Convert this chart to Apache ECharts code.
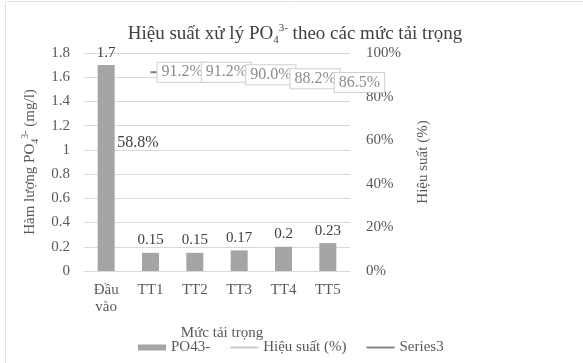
<!DOCTYPE html>
<html>
<head>
<meta charset="utf-8">
<script src="https://cdn.jsdelivr.net/npm/echarts@6/dist/echarts.min.js"></script>
<style>
html,body{margin:0;padding:0;background:#fff;}
#c{width:583px;height:363px;}
</style>
</head>
<body>
<div id="c"></div>
<script>
const categories = ['Đầu\nvào', 'TT1', 'TT2', 'TT3', 'TT4', 'TT5'];
const po4Values = [1.7, 0.15, 0.15, 0.17, 0.2, 0.23];
const efficiencyValues = [58.8, 91.2, 91.2, 90.0, 88.2, 86.5];
const series3Values = [null, 91.2, 91.2, 90.0, 88.2, 86.5];
const leftTicks = { min: 0, max: 1.8, interval: 0.2 };
const rightTicks = { min: 0, max: 100, interval: 20 };

const FONT = 'Liberation Serif';
const TXT = '#595959';

const chart = echarts.init(document.getElementById('c'), null, { renderer: 'canvas' });

const effData = efficiencyValues.map((v, i) => {
  if (i === 0) {
    return { value: v, label: { backgroundColor: 'transparent', borderWidth: 0, color: '#404040', offset: [-4, 8] } };
  }
  return v;
});

chart.setOption({
  animation: false,
  backgroundColor: '#fff',
  graphic: [{
    type: 'rect', silent: true, z: -1,
    shape: { x: 5.5, y: 1.5, width: 600, height: 400 },
    style: { fill: 'none', stroke: '#e3e3e3', lineWidth: 1 }
  }],
  title: {
    text: 'Hiệu suất xử lý PO{sub|4}{sup|3-} theo các mức tải trọng',
    left: 290, textAlign: 'center', top: 18,
    textStyle: {
      fontFamily: FONT, fontSize: 19, fontWeight: 'normal', color: '#404040',
      rich: {
        sub: { fontFamily: FONT, fontSize: 11, color: '#404040', padding: [12, 0, 0, 0] },
        sup: { fontFamily: FONT, fontSize: 11, color: '#404040', padding: [0, 0, 12, 0] }
      }
    }
  },
  grid: { left: 84, right: 233, top: 53, bottom: 92 },
  legend: {
    left: 133, top: 335, itemWidth: 28, itemHeight: 6, itemGap: 20,
    textStyle: { fontFamily: FONT, fontSize: 15, color: TXT },
    data: [
      { name: 'PO43-', icon: 'rect' },
      { name: 'Hiệu suất (%)', icon: 'path://M0,0h30v2h-30z', itemStyle: { color: '#c9c9c9', opacity: 1 } },
      { name: 'Series3', icon: 'path://M0,0h30v2h-30z', itemStyle: { color: '#7f7f7f', opacity: 1 } }
    ]
  },
  xAxis: {
    type: 'category', data: categories,
    axisLine: { lineStyle: { color: '#d9d9d9' } },
    axisTick: { show: false },
    axisLabel: { fontFamily: FONT, fontSize: 15, color: TXT, margin: 11, lineHeight: 17 },
    name: 'Mức tải trọng', nameLocation: 'middle', nameGap: 55,
    nameTextStyle: { fontFamily: FONT, fontSize: 15, color: TXT, padding: [0, 0, 0, 10] }
  },
  yAxis: [{
    type: 'value', min: leftTicks.min, max: leftTicks.max, interval: leftTicks.interval,
    axisLine: { show: false }, axisTick: { show: false },
    splitLine: { lineStyle: { color: '#d9d9d9' } },
    axisLabel: { fontFamily: FONT, fontSize: 15, color: TXT, margin: 14 },
    name: 'Hàm lượng PO{sub|4}{sup|3-} (mg/l)', nameLocation: 'middle', nameGap: 44, nameRotate: 90,
    nameTextStyle: {
      fontFamily: FONT, fontSize: 15, color: TXT,
      rich: {
        sub: { fontFamily: FONT, fontSize: 10, color: TXT, padding: [10, 0, 0, 0] },
        sup: { fontFamily: FONT, fontSize: 10, color: TXT, padding: [0, 0, 10, 0] }
      }
    }
  }, {
    type: 'value', min: rightTicks.min, max: rightTicks.max, interval: rightTicks.interval,
    position: 'right',
    axisLine: { show: false }, axisTick: { show: false }, splitLine: { show: false },
    axisLabel: { fontFamily: FONT, fontSize: 15, color: TXT, margin: 16, formatter: '{value}%' },
    name: 'Hiệu suất (%)', nameLocation: 'middle', nameGap: 66, nameRotate: 90,
    nameTextStyle: { fontFamily: FONT, fontSize: 15, color: TXT }
  }],
  series: [{
    name: 'PO43-', type: 'bar', data: po4Values, barWidth: 17,
    itemStyle: { color: '#a5a5a5' },
    label: { show: true, position: 'top', distance: 5, fontFamily: FONT, fontSize: 15, color: '#404040' }
  }, {
    name: 'Series3', type: 'line', yAxisIndex: 1, data: series3Values, z: 3,
    symbol: 'none', itemStyle: { color: '#7f7f7f' }, lineStyle: { color: '#7f7f7f', width: 2 }
  }, {
    name: 'Hiệu suất (%)', type: 'line', yAxisIndex: 1, data: effData, z: 5,
    symbol: 'circle', symbolSize: 0.01, showSymbol: true,
    itemStyle: { color: '#a5a5a5' },
    lineStyle: { color: '#c9c9c9', opacity: 0 },
    label: {
      show: true, position: 'right', distance: 7, offset: [0, -4],
      fontFamily: FONT, fontSize: 16, color: '#8c8c8c',
      backgroundColor: '#ffffff', borderColor: '#d0d0d0', borderWidth: 1, padding: [2, 4, 1, 4],
      formatter: p => p.value.toFixed(1) + '%'
    },
    labelLayout: { hideOverlap: false }
  }]
});
</script>
</body>
</html>
